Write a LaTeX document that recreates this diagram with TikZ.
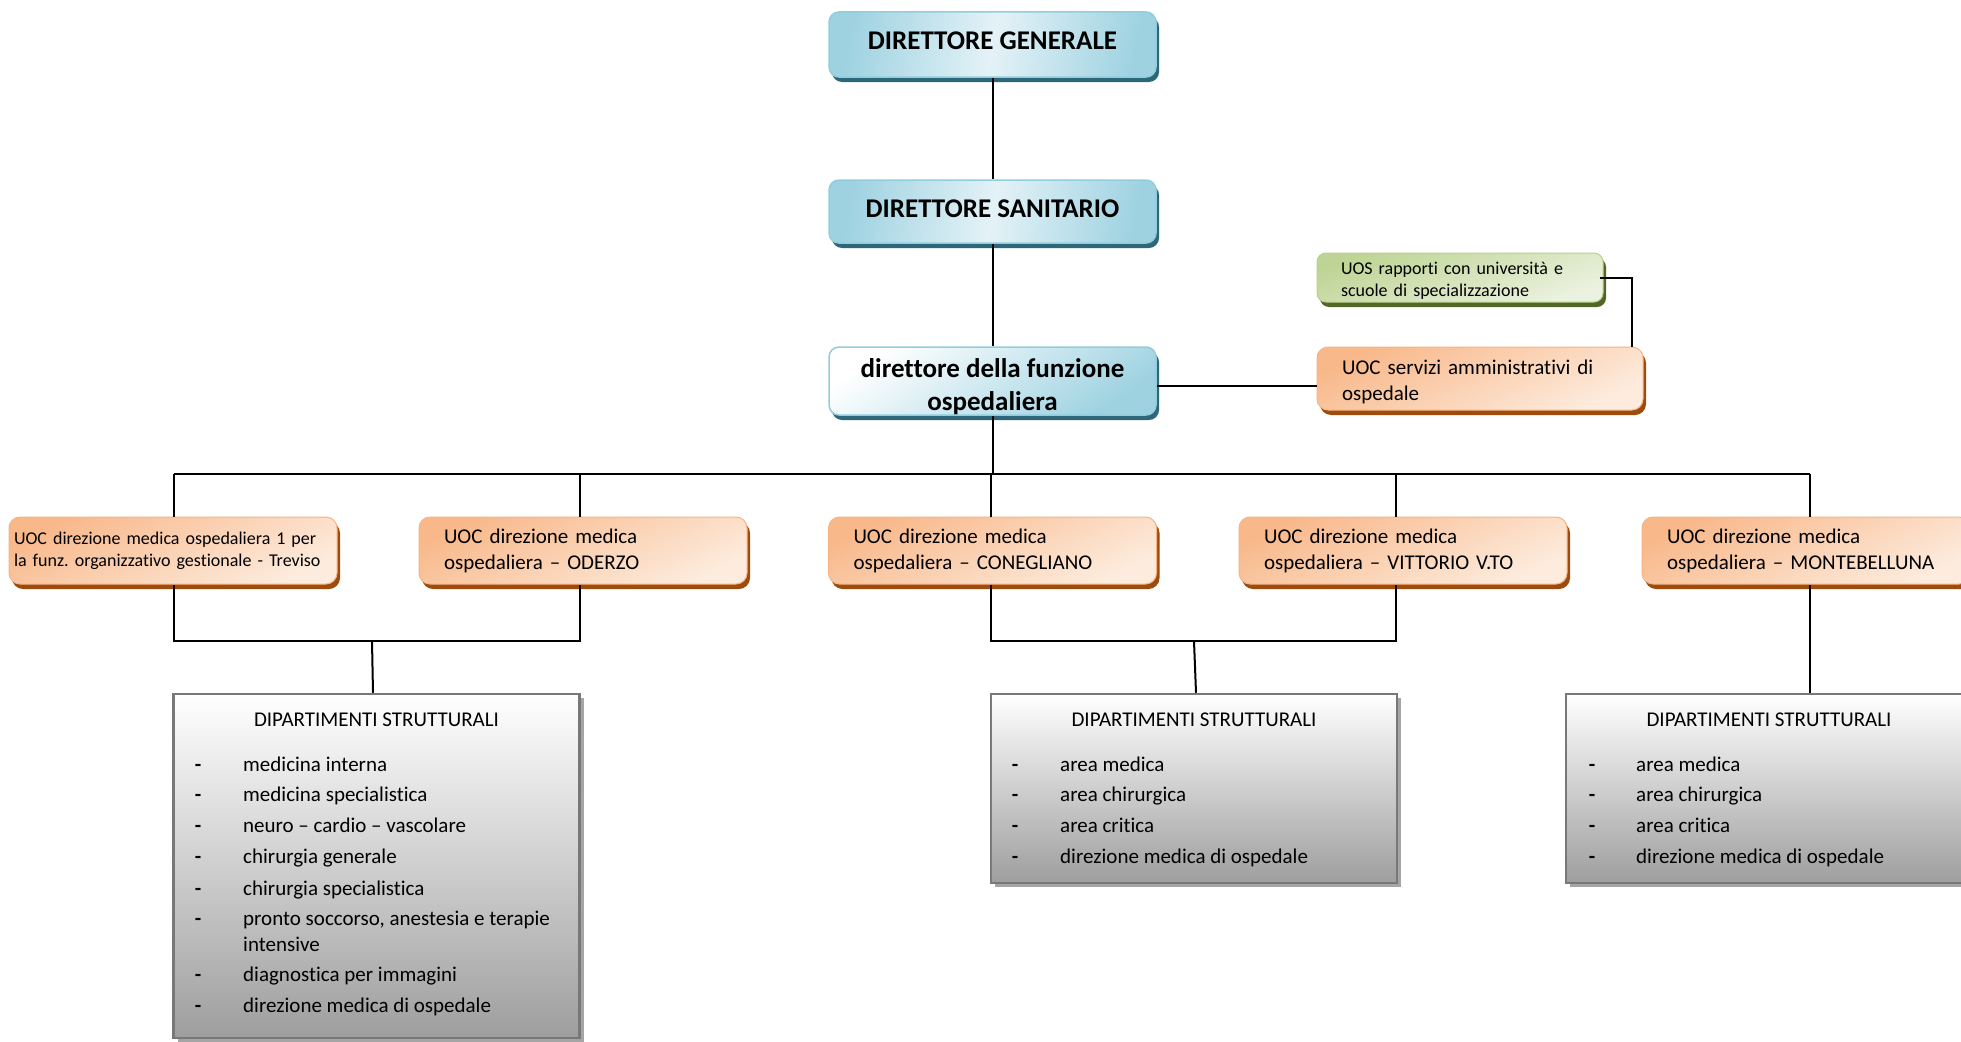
\documentclass[tikz,border=0pt]{standalone}
\usepackage{fontspec}
\setmainfont{Carlito}[Ligatures={TeX,NoCommon}]
\usetikzlibrary{shadows}
\definecolor{blueDark}{RGB}{158,210,225}
\definecolor{blueLight}{RGB}{228,242,247}
\definecolor{blueBorder}{RGB}{146,205,221}
\definecolor{blueShadow}{RGB}{45,104,122}
\definecolor{orDark}{RGB}{248,184,138}
\definecolor{orLight}{RGB}{253,236,222}
\definecolor{orBorder}{RGB}{247,180,130}
\definecolor{orShadow}{RGB}{158,76,14}
\definecolor{grDark}{RGB}{190,212,148}
\definecolor{grLight}{RGB}{236,242,224}
\definecolor{grBorder}{RGB}{184,208,140}
\definecolor{grShadow}{RGB}{82,102,42}
\definecolor{dBorder}{RGB}{120,120,120}
\definecolor{dBottom}{RGB}{158,158,158}
\definecolor{dShadow}{RGB}{165,165,165}
\newcommand\myfTitle{\fontsize{27}{32.5}\selectfont\bfseries}
\newcommand\myfUoc{\fontsize{21}{25.8}\selectfont}
\newcommand\myfSmall{\fontsize{18}{22}\selectfont}
\newcommand\myfDept{\fontsize{21}{25.5}\selectfont}
\frenchspacing
\begin{document}
\begin{tikzpicture}[x=1pt,y=-1pt,
  conn/.style={draw=black,line width=2pt},
  bluebox/.style={draw=blueBorder,line width=1.5pt,rounded corners=10pt,
    minimum width=327pt,inner sep=0pt,font=\myfTitle,align=center,
    drop shadow={opacity=1,fill=blueShadow,shadow xshift=3pt,shadow yshift=-5pt}},
  orbox/.style={draw=orBorder,line width=1pt,rounded corners=11pt,
    top color=orDark,bottom color=orLight,shading angle=25,
    minimum width=328pt,minimum height=67pt,inner ysep=0pt,inner xsep=25pt,
    text width=278pt,align=left,font=\myfUoc,
    drop shadow={opacity=1,fill=orShadow,shadow xshift=3pt,shadow yshift=-5pt}},
  grbox/.style={draw=grBorder,line width=1pt,rounded corners=9pt,
    top color=grDark,bottom color=grLight,shading angle=20,
    minimum width=286pt,minimum height=49pt,inner ysep=0pt,inner xsep=24pt,
    text width=238pt,align=left,font=\myfSmall,
    drop shadow={opacity=1,fill=grShadow,shadow xshift=3pt,shadow yshift=-5pt}},
  deptbox/.style={draw=dBorder,line width=2.5pt,top color=white,bottom color=dBottom,
    minimum width=406pt,inner sep=0pt,
    drop shadow={opacity=1,fill=dShadow,shadow xshift=4pt,shadow yshift=-4pt}},
  dtitle/.style={font=\myfDept,inner sep=0pt,anchor=base},
  ditem/.style={font=\myfDept,inner sep=0pt,anchor=base west},
  ddash/.style={font=\myfDept\bfseries,inner sep=0pt,anchor=base}]
\useasboundingbox (0,0) rectangle (1961,1041);
\fill[white] (0,0) rectangle (1961,1041);

% top blue boxes
\node[bluebox,minimum height=65pt,left color=blueDark,right color=blueDark,middle color=blueLight,shading angle=80] (dg) at (992.5,44.5) {DIRETTORE GENERALE\rule[-7pt]{0pt}{7pt}};
\node[bluebox,minimum height=63pt,left color=blueDark,right color=blueDark,middle color=blueLight,shading angle=80] (ds) at (992.5,211.5) {DIRETTORE SANITARIO\rule[-5pt]{0pt}{5pt}};
\node[bluebox,minimum height=68pt,top color=white,bottom color=blueDark,shading angle=35] (dfo) at (992.5,381) {\rule{0pt}{30pt}direttore della funzione\\ospedaliera};

% right side
\node[grbox] (uos) at (1460,277.5) {\rule{0pt}{19pt}UOS rapporti con università e\\scuole di specializzazione};
\node[orbox,minimum width=326pt,minimum height=63pt,text width=276pt] (serv) at (1480,378.5) {\rule{0pt}{21pt}UOC servizi amministrativi di\\ospedale};

% UOC row
\node[orbox,inner xsep=5pt,text width=318pt,font=\myfSmall] (b1) at (173,550.5) {\mbox{UOC direzione medica ospedaliera 1 per}\\\mbox{la funz. organizzativo gestionale - Treviso}};
\node[orbox] (b2) at (583,550.5) {\mbox{UOC direzione medica}\\\mbox{ospedaliera – ODERZO}};
\node[orbox] (b3) at (992.5,550.5) {\mbox{UOC direzione medica}\\\mbox{ospedaliera – CONEGLIANO}};
\node[orbox] (b4) at (1403,550.5) {\mbox{UOC direzione medica}\\\mbox{ospedaliera – VITTORIO V.TO}};
\node[orbox] (b5) at (1806,550.5) {\mbox{UOC direzione medica}\\\mbox{ospedaliera – MONTEBELLUNA}};

% department boxes
\node[deptbox,minimum height=344pt] (d1) at (376.5,866) {};
\node[deptbox,minimum height=189pt] (d2) at (1194,788.5) {};
\node[deptbox,minimum height=189pt] (d3) at (1769,788.5) {};

\node[dtitle] (d1t) at (376.5,726) {DIPARTIMENTI STRUTTURALI};
\foreach \y/\t [count=\i] in {771/medicina interna,801/medicina specialistica,832/neuro – cardio – vascolare,863/chirurgia generale,895/chirurgia specialistica,925/{pronto soccorso, anestesia e terapie},981/diagnostica per immagini,1012/direzione medica di ospedale}{
  \node[ddash] (d1d\i) at (198,\y) {-};
  \node[ditem] (d1i\i) at (243,\y) {\t};
}
\node[ditem] (d1w) at (243,951) {intensive};

\node[dtitle] (d2t) at (1194,726) {DIPARTIMENTI STRUTTURALI};
\node[dtitle] (d3t) at (1769,726) {DIPARTIMENTI STRUTTURALI};
\foreach \y/\t [count=\i] in {771/area medica,801/area chirurgica,832/area critica,863/direzione medica di ospedale}{
  \node[ddash] (d2d\i) at (1015,\y) {-};
  \node[ditem] (d2i\i) at (1060,\y) {\t};
  \node[ddash] (d3d\i) at (1592,\y) {-};
  \node[ditem] (d3i\i) at (1636,\y) {\t};
}

% connectors
\coordinate (busL) at (174,474);
\coordinate (busR) at (1810,474);
\coordinate (j1) at (372,641);
\coordinate (j2) at (1194,641);
\draw[conn] (dg.south) -- (ds.north);
\draw[conn] (ds.south) -- (dfo.north);
\draw[conn] (dfo.south) -- (dfo.south |- busL);
\draw[conn] (busL) -- (busR);
\draw[conn] ([xshift=1pt]b1.north) -- ([xshift=1pt]b1.north |- busL);
\draw[conn] ([xshift=-3pt]b2.north) -- ([xshift=-3pt]b2.north |- busL);
\draw[conn] ([xshift=-1.5pt]b3.north) -- ([xshift=-1.5pt]b3.north |- busL);
\draw[conn] ([xshift=-7pt]b4.north) -- ([xshift=-7pt]b4.north |- busL);
\draw[conn] ([xshift=4pt]b5.north) -- ([xshift=4pt]b5.north |- busL);
\draw[conn] ([yshift=-5pt]dfo.east) -- ([yshift=-7.5pt]serv.west);
\draw[conn] ([xshift=-4pt]uos.east) -| ([xshift=152pt]serv.north);
\draw[conn] ([xshift=1pt]b1.south) |- (j1) -| ([xshift=-3pt]b2.south);
\draw[conn] (j1) -- ([xshift=-3.5pt]d1.north);
\draw[conn] ([xshift=-1.5pt]b3.south) |- (j2) -| ([xshift=-7pt]b4.south);
\draw[conn] (j2) -- ([xshift=2pt]d2.north);
\draw[conn] ([xshift=4pt]b5.south) -- ([xshift=4pt]b5.south |- d3.north);
\end{tikzpicture}
\end{document}
